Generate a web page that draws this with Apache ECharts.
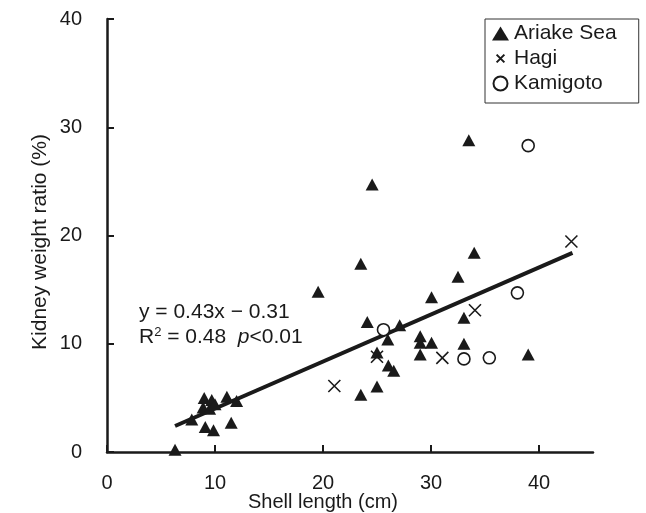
<!DOCTYPE html>
<html>
<head>
<meta charset="utf-8">
<script src="https://cdn.jsdelivr.net/npm/echarts@6/dist/echarts.min.js"></script>
<style>html,body{margin:0;padding:0;background:#fff;}#c{width:646px;height:513px;}</style>
</head>
<body>
<div id="c"></div>
<script>
// ---- data ----
var ariakeX = [6.3, 7.85, 9.1, 9.86, 11.5, 9.0, 9.7, 8.9, 9.5, 10.0, 11.1, 12.0, 19.55, 23.5, 24.55, 23.5, 25.0, 24.1, 25.0, 26.0, 26.05, 26.55, 27.1, 29.0, 29.0, 29.0, 30.05, 30.05, 32.5, 33.05, 33.05, 33.5, 34.0, 39.0];
var ariakeY = [0.2, 3.0, 2.3, 2.0, 2.7, 5.0, 4.8, 4.1, 4.0, 4.4, 5.1, 4.7, 14.8, 17.4, 24.7, 5.3, 6.06, 12.0, 9.2, 10.4, 8.0, 7.5, 11.7, 10.7, 10.1, 9.0, 10.1, 14.3, 16.2, 12.4, 10.0, 28.8, 18.4, 9.0];
var hagiX = [21.05, 25.0, 31.05, 34.07, 43.0];
var hagiY = [6.1, 8.8, 8.7, 13.1, 19.45];
var kamigotoX = [25.6, 33.05, 35.4, 38.0, 39.0];
var kamigotoY = [11.3, 8.6, 8.7, 14.7, 28.3];
var fitX = [6.3, 43.1];
var fitY = [2.4, 18.4];
var xTicks = [0, 10, 20, 30, 40];
var yTicks = [0, 10, 20, 30, 40];
var seriesNames = ['Ariake Sea', 'Hagi', 'Kamigoto'];
var eqLine1 = 'y = 0.43x \u2212 0.31';
var xName = 'Shell length (cm)';
var yName = 'Kidney weight ratio (%)';

function pairs(xs, ys) { return xs.map(function (x, i) { return [x, ys[i]]; }); }

var FONT = 'Liberation Sans';
var INK = '#1a1a1a';
var xPath = 'path://M0,0L10,10M10,0L0,10';
var xLegendPath = 'path://M-4,-4M14,14M0,0L10,10M10,0L0,10';

var chart = echarts.init(document.getElementById('c'), null, { renderer: 'canvas' });
chart.setOption({
  animation: false,
  backgroundColor: '#fff',
  textStyle: { fontFamily: FONT, color: INK },
  grid: { left: 107, right: 53, top: 19, bottom: 61, containLabel: false, outerBoundsMode: 'none' },
  legend: {
    orient: 'vertical',
    left: 485, top: 19,
    padding: [4, 22, 9, 7],
    borderColor: '#333', borderWidth: 1,
    itemWidth: 17, itemHeight: 14, itemGap: 4, itemTextGap: 9,
    textStyle: { fontFamily: FONT, fontSize: 21, color: INK, lineHeight: 21 },
    data: [
      { name: seriesNames[0], icon: 'triangle' },
      { name: seriesNames[1], icon: xLegendPath },
      { name: seriesNames[2], icon: 'circle' }
    ]
  },
  xAxis: {
    type: 'value', min: 0, max: 45,
    name: xName, nameLocation: 'middle', nameGap: 40, nameMoveOverlap: false,
    nameTextStyle: { fontFamily: FONT, fontSize: 20, color: INK, padding: [0, 54, 0, 0], verticalAlign: 'top', lineHeight: 20 },
    axisLine: { onZero: false, lineStyle: { color: INK, width: 2.5 } },
    axisTick: { inside: true, length: 7, lineStyle: { color: INK, width: 2 }, customValues: xTicks },
    axisLabel: { fontFamily: FONT, fontSize: 20, color: INK, margin: 21, customValues: xTicks },
    splitLine: { show: false }
  },
  yAxis: {
    type: 'value', min: 0, max: 40,
    name: yName, nameLocation: 'middle', nameGap: 56, nameRotate: 90, nameMoveOverlap: false,
    nameTextStyle: { fontFamily: FONT, fontSize: 21, color: INK, padding: [0, 13, 0, 0] },
    axisLine: { onZero: false, lineStyle: { color: INK, width: 2.5 } },
    axisTick: { inside: true, length: 7, lineStyle: { color: INK, width: 2 }, customValues: yTicks },
    axisLabel: { fontFamily: FONT, fontSize: 20, color: INK, margin: 25, customValues: yTicks },
    splitLine: { show: false }
  },
  series: [
    {
      name: 'fit', type: 'line', data: pairs(fitX, fitY), symbol: 'none',
      lineStyle: { color: INK, width: 4 }, z: 1, silent: true
    },
    {
      name: seriesNames[0], type: 'scatter', data: pairs(ariakeX, ariakeY),
      symbol: 'triangle', symbolSize: [13, 12],
      itemStyle: { color: INK, opacity: 1 }, z: 3
    },
    {
      name: seriesNames[1], type: 'scatter', data: pairs(hagiX, hagiY),
      symbol: xPath, symbolSize: 12,
      itemStyle: { color: INK, borderColor: INK, borderWidth: 1.6, opacity: 1 }, z: 4
    },
    {
      name: seriesNames[2], type: 'scatter', data: pairs(kamigotoX, kamigotoY),
      symbol: 'circle', symbolSize: 12,
      itemStyle: { color: '#fff', borderColor: INK, borderWidth: 1.6, opacity: 1 }, z: 4
    }
  ],
  graphic: [
    {
      type: 'text', left: 139, top: 302,
      style: { text: eqLine1, font: '21px "' + FONT + '"', fill: INK }
    },
    {
      type: 'text', left: 139, top: 326,
      style: {
        text: 'R{sup|2} = 0.48  {it|p}<0.01',
        font: '21px "' + FONT + '"', fill: INK,
        rich: {
          sup: { fontSize: 13, verticalAlign: 'top', padding: [0, 0, 9, 0], fontFamily: FONT, fill: INK },
          it: { fontStyle: 'italic', fontSize: 21, fontFamily: FONT, fill: INK }
        }
      }
    }
  ]
});
</script>
</body>
</html>
